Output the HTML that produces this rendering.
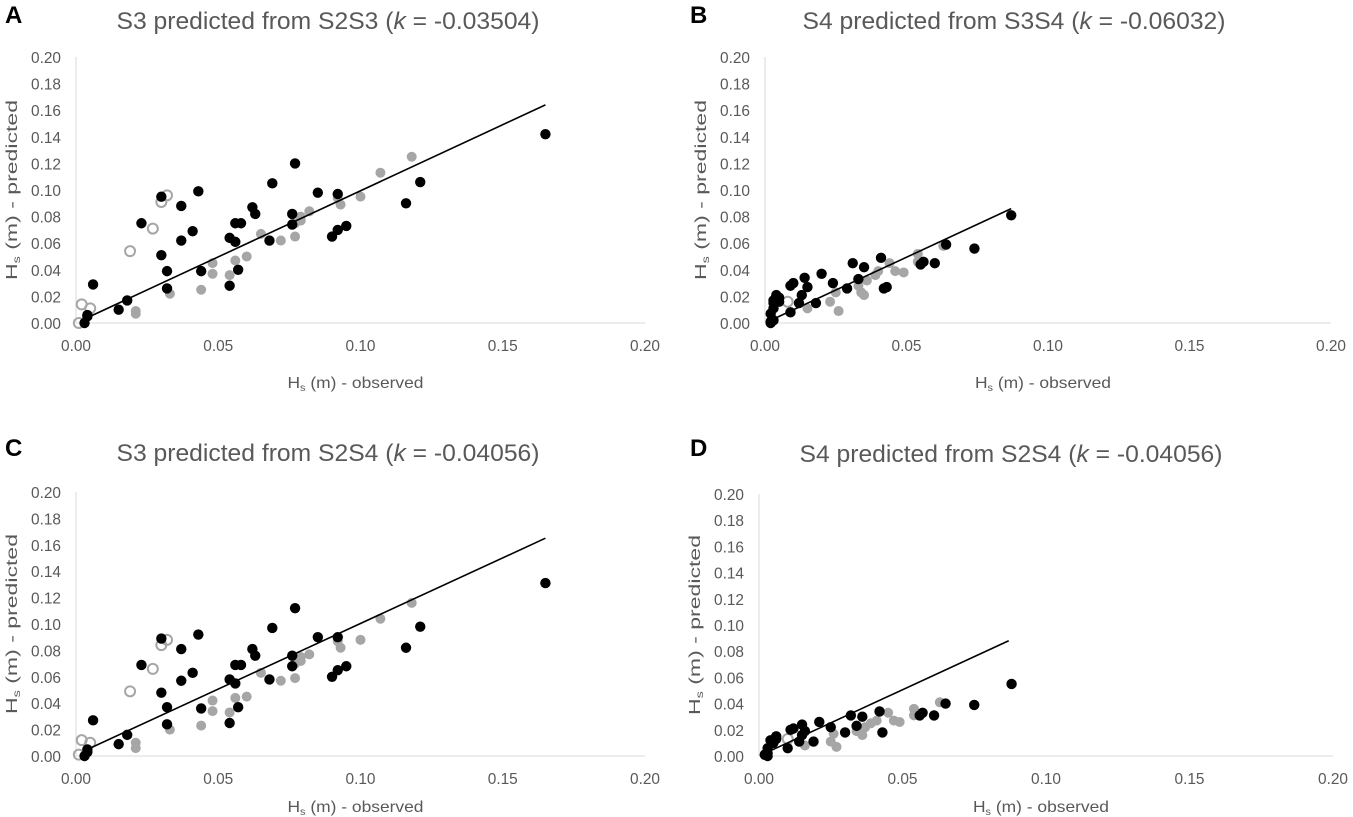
<!DOCTYPE html>
<html><head><meta charset="utf-8"><style>
html,body{margin:0;padding:0;background:#fff;}
svg{display:block;font-family:"Liberation Sans",sans-serif;}
</style></head><body>
<svg id="fig" width="1353" height="817" viewBox="0 0 1353 817"></svg>
<script>
// Panel A data
const aBlackX=[0.003,0.004,0.004,0.006,0.015,0.018,0.023,0.030,0.030,0.032,0.032,0.037,0.037,0.041,0.043,0.044,0.054,0.054,0.056,0.056,0.057,0.058,0.062,0.063,0.068,0.069,0.076,0.076,0.077,0.085,0.090,0.092,0.092,0.095,0.116,0.121,0.165];
const aBlackY=[0.000,0.005,0.006,0.029,0.010,0.017,0.075,0.095,0.051,0.039,0.026,0.088,0.062,0.069,0.099,0.039,0.064,0.028,0.061,0.075,0.040,0.075,0.087,0.082,0.062,0.105,0.082,0.074,0.120,0.098,0.065,0.070,0.097,0.073,0.090,0.106,0.142];
const aGrayX=[0.021,0.021,0.033,0.044,0.048,0.048,0.054,0.056,0.060,0.065,0.072,0.077,0.077,0.079,0.079,0.082,0.092,0.093,0.100,0.107,0.118];
const aGrayY=[0.007,0.009,0.022,0.025,0.045,0.037,0.036,0.047,0.050,0.067,0.062,0.065,0.075,0.080,0.077,0.084,0.094,0.089,0.095,0.113,0.125];
const aOpenX=[0.002,0.005,0.001,0.019,0.027,0.030,0.032];
const aOpenY=[0.014,0.011,0.000,0.054,0.071,0.091,0.096];
const aLineX=[0.003,0.165];
const aLineY=[0.003,0.164];
// Panel B data
const bBlackX=[0.002,0.002,0.003,0.002,0.003,0.003,0.003,0.004,0.005,0.005,0.009,0.009,0.010,0.012,0.013,0.014,0.015,0.018,0.020,0.024,0.029,0.031,0.033,0.035,0.041,0.042,0.043,0.055,0.056,0.060,0.064,0.074,0.087];
const bBlackY=[0.000,0.001,0.002,0.007,0.011,0.015,0.017,0.021,0.019,0.016,0.008,0.028,0.030,0.015,0.021,0.034,0.027,0.015,0.037,0.030,0.026,0.045,0.033,0.042,0.049,0.026,0.027,0.044,0.046,0.045,0.059,0.056,0.081];
const bGrayX=[0.002,0.015,0.023,0.025,0.026,0.033,0.034,0.035,0.036,0.039,0.040,0.044,0.046,0.049,0.054,0.054,0.063];
const bGrayY=[0.000,0.011,0.016,0.023,0.009,0.028,0.023,0.021,0.032,0.036,0.039,0.045,0.039,0.038,0.052,0.046,0.058];
const bOpenX=[0.008];
const bOpenY=[0.016];
const bLineX=[0.003,0.087];
const bLineY=[0.003,0.086];
// Panel C data
const cBlackX=aBlackX;
const cBlackY=[0.000,0.003,0.005,0.027,0.009,0.016,0.069,0.089,0.048,0.037,0.024,0.081,0.057,0.063,0.092,0.036,0.058,0.025,0.055,0.069,0.037,0.069,0.081,0.076,0.058,0.097,0.076,0.068,0.112,0.090,0.060,0.065,0.090,0.068,0.082,0.098,0.131];
const cGrayX=aGrayX;
const cGrayY=[0.006,0.010,0.020,0.023,0.042,0.034,0.033,0.044,0.045,0.063,0.057,0.059,0.070,0.075,0.072,0.077,0.087,0.082,0.088,0.104,0.116];
const cOpenX=aOpenX;
const cOpenY=[0.012,0.010,0.001,0.049,0.066,0.084,0.088];
const cLineX=[0.003,0.165];
const cLineY=[0.004,0.165];
// Panel D data
const dBlackX=[0.002,0.003,0.003,0.003,0.004,0.005,0.006,0.006,0.010,0.011,0.012,0.014,0.015,0.015,0.016,0.019,0.021,0.025,0.030,0.032,0.034,0.036,0.042,0.043,0.056,0.057,0.061,0.065,0.075,0.088];
const dBlackY=[0.001,0.000,0.002,0.006,0.012,0.010,0.015,0.013,0.006,0.020,0.021,0.011,0.016,0.024,0.019,0.011,0.026,0.022,0.018,0.031,0.023,0.030,0.034,0.018,0.031,0.033,0.031,0.040,0.039,0.055];
const dGrayX=[0.003,0.016,0.025,0.026,0.027,0.034,0.036,0.037,0.039,0.041,0.045,0.047,0.049,0.054,0.054,0.063];
const dGrayY=[0.000,0.008,0.011,0.017,0.007,0.019,0.016,0.022,0.025,0.027,0.033,0.027,0.026,0.036,0.031,0.041];
const dOpenX=[0.010];
const dOpenY=[0.013];
const dLineX=[0.003,0.087];
const dLineY=[0.003,0.088];
const xTicks=["0.00","0.05","0.10","0.15","0.20"];
const yTicks=["0.00","0.02","0.04","0.06","0.08","0.10","0.12","0.14","0.16","0.18","0.20"];

const NS="http://www.w3.org/2000/svg";
const svg=document.getElementById('fig');
function mk(tag,attrs,parent){const e=document.createElementNS(NS,tag);for(const k in attrs)e.setAttribute(k,attrs[k]);(parent||svg).appendChild(e);return e;}

const panels=[
 {id:'a',letter:'A',title:'S3 predicted from S2S3 (',kv:' = -0.03504)',tx:328,ty:29,x0:76,x1:645,y0:323,y1:57,ylx:61,ytx:17,xto:65,bx:aBlackX,by:aBlackY,gx:aGrayX,gy:aGrayY,ox:aOpenX,oy:aOpenY,lx:aLineX,ly:aLineY,lxp:5,lyp:23},
 {id:'b',letter:'B',title:'S4 predicted from S3S4 (',kv:' = -0.06032)',tx:1014,ty:29,x0:765,x1:1331,y0:323,y1:57,ylx:750,ytx:706,xto:65,bx:bBlackX,by:bBlackY,gx:bGrayX,gy:bGrayY,ox:bOpenX,oy:bOpenY,lx:bLineX,ly:bLineY,lxp:690,lyp:23},
 {id:'c',letter:'C',title:'S3 predicted from S2S4 (',kv:' = -0.04056)',tx:328,ty:461,x0:76,x1:645,y0:756,y1:492,ylx:61,ytx:17,xto:56,bx:cBlackX,by:cBlackY,gx:cGrayX,gy:cGrayY,ox:cOpenX,oy:cOpenY,lx:cLineX,ly:cLineY,lxp:5,lyp:456},
 {id:'d',letter:'D',title:'S4 predicted from S2S4 (',kv:' = -0.04056)',tx:1011,ty:462,x0:759,x1:1333,y0:756,y1:494,ylx:744,ytx:700,xto:56,bx:dBlackX,by:dBlackY,gx:dGrayX,gy:dGrayY,ox:dOpenX,oy:dOpenY,lx:dLineX,ly:dLineY,lxp:690,lyp:456}
];

panels.forEach(p=>{
  const g=mk('g',{});
  
  
  const sx=v=>p.x0+(p.x1-p.x0)*v/0.2;
  const sy=v=>p.y0-(p.y0-p.y1)*v/0.2;
  const L=mk('text',{x:p.lxp,y:p.lyp,'font-size':24,'font-weight':'bold',fill:'#000'},g);
  L.textContent=p.letter;
  
  
  const T=mk('text',{x:p.tx,y:p.ty,'font-size':24,fill:'#595959','text-anchor':'middle',textLength:423,lengthAdjust:'spacingAndGlyphs'},g);
  
  
  const t1=mk('tspan',{},T);t1.textContent=p.title;
  const t2=mk('tspan',{'font-style':'italic'},T);t2.textContent='k';
  const t3=mk('tspan',{},T);t3.textContent=p.kv;
  const ya=mk('line',{x1:p.x0,y1:p.y0,x2:p.x0,y2:p.y1,stroke:'#d9d9d9','stroke-width':1},g);
  
  
  const xa=mk('line',{x1:p.x0,y1:p.y0,x2:p.x1,y2:p.y0,stroke:'#d9d9d9','stroke-width':1},g);
  
  
  yTicks.forEach(t=>{
    const e=mk('text',{x:p.ylx,y:sy(parseFloat(t))+6,'font-size':16,fill:'#595959','text-anchor':'end',textLength:30,lengthAdjust:'spacingAndGlyphs'},g);
    e.textContent=t;
    
    
  });
  xTicks.forEach(t=>{
    const e=mk('text',{x:sx(parseFloat(t)),y:p.y0+28,'font-size':16,fill:'#595959','text-anchor':'middle',textLength:30,lengthAdjust:'spacingAndGlyphs'},g);
    e.textContent=t;
    
    
  });
  const xt=mk('text',{x:(p.x0+p.x1)/2-5,y:p.y0+p.xto,'font-size':16,fill:'#595959','text-anchor':'middle',textLength:136,lengthAdjust:'spacingAndGlyphs'},g);
  
  
  let s=mk('tspan',{},xt);s.textContent='H';
  s=mk('tspan',{'font-size':10,dy:3},xt);s.textContent='s';
  s=mk('tspan',{dy:-3},xt);s.textContent=' (m) - observed';
  const ycx=p.ytx, ycy=(p.y0+p.y1)/2;
  const yt=mk('text',{x:ycx,y:ycy,'font-size':16,fill:'#595959','text-anchor':'middle',transform:`rotate(-90 ${ycx} ${ycy})`,textLength:180,lengthAdjust:'spacingAndGlyphs'},g);
  
  
  s=mk('tspan',{},yt);s.textContent='H';
  s=mk('tspan',{'font-size':10,dy:3},yt);s.textContent='s';
  s=mk('tspan',{dy:-3},yt);s.textContent=' (m) - predicted';
  p.gx.forEach((v,i)=>{
    const c=mk('circle',{cx:sx(v),cy:sy(p.gy[i]),r:5,fill:'#a6a6a6'},g);
    
    
  });
  p.ox.forEach((v,i)=>{
    const c=mk('circle',{cx:sx(v),cy:sy(p.oy[i]),r:5,fill:'none',stroke:'#a6a6a6','stroke-width':2},g);
    
    
  });
  p.bx.forEach((v,i)=>{
    const c=mk('circle',{cx:sx(v),cy:sy(p.by[i]),r:5.2,fill:'#000'},g);
    
    
  });
  const ln=mk('line',{x1:sx(p.lx[0]),y1:sy(p.ly[0]),x2:sx(p.lx[1]),y2:sy(p.ly[1]),stroke:'#000','stroke-width':1.6},g);
  
  
});
</script>
</body></html>
